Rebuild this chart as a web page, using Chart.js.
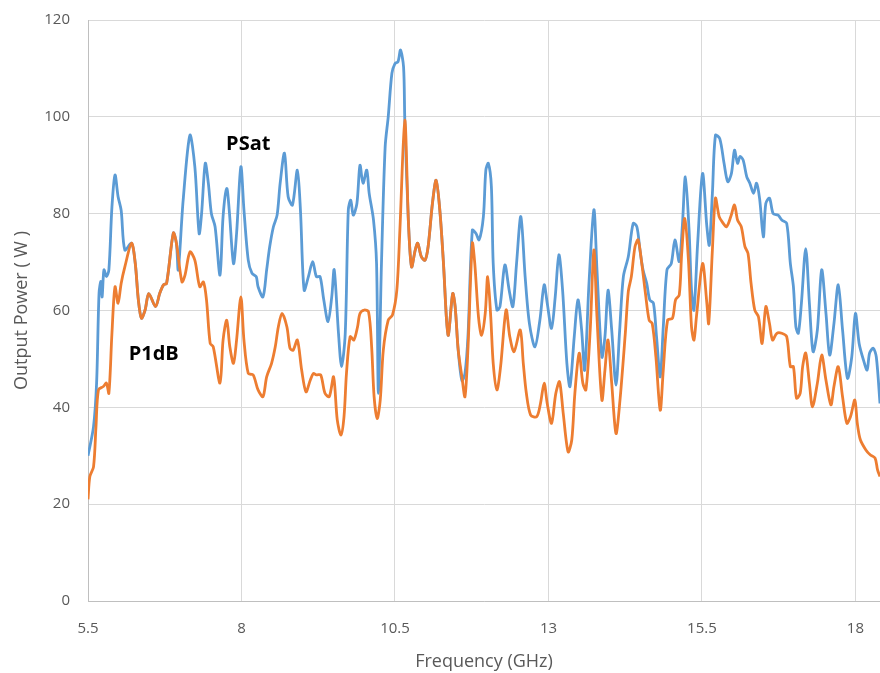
<!DOCTYPE html>
<html>
<head>
<meta charset="utf-8">
<script src="https://cdn.jsdelivr.net/npm/chart.js@4.4.1/dist/chart.umd.min.js"></script>
<style>
  body { margin: 0; background: #fff; }
  canvas { display: block; }
</style>
</head>
<body>
<canvas id="power" width="880" height="673"></canvas>
<script>
// frequency (GHz) / output power (W)
const psatFreq = [5.50, 5.59, 5.64, 5.68, 5.71, 5.73, 5.76, 5.80, 5.84, 5.89, 5.94, 5.99, 6.04, 6.10,
  6.21, 6.27, 6.32, 6.37, 6.43, 6.49, 6.60, 6.67, 6.73, 6.78, 6.89, 6.94,
  6.97, 7.05, 7.16, 7.24, 7.31, 7.35, 7.41, 7.46, 7.51, 7.57, 7.65, 7.70, 7.76, 7.80, 7.87, 7.92,
  7.99, 8.04, 8.11, 8.17, 8.24, 8.27, 8.35, 8.41, 8.46, 8.52, 8.58, 8.63, 8.70, 8.76, 8.83, 8.91,
  8.96, 9.02, 9.09, 9.16, 9.22, 9.28, 9.34, 9.41, 9.47, 9.51, 9.58, 9.63, 9.69, 9.74, 9.78, 9.82,
  9.88, 9.93, 9.98, 10.04, 10.08, 10.15, 10.20, 10.23, 10.28, 10.34, 10.39, 10.45, 10.50, 10.55,
  10.59, 10.64, 10.66, 10.72, 10.77, 10.83, 10.87, 10.93, 10.99, 11.04, 11.11, 11.17, 11.23, 11.29,
  11.34, 11.37, 11.44, 11.48, 11.53, 11.59, 11.64, 11.69, 11.76, 11.82, 11.87, 11.94, 11.98, 12.02,
  12.07, 12.10, 12.16, 12.21, 12.29, 12.36, 12.42, 12.48, 12.55, 12.62, 12.69, 12.78, 12.86, 12.93,
  12.98, 13.05, 13.11, 13.17, 13.23, 13.30, 13.35, 13.42, 13.48, 13.54, 13.59, 13.66, 13.74, 13.79,
  13.87, 13.92, 13.97, 14.03, 14.10, 14.16, 14.22, 14.30, 14.38, 14.44, 14.49, 14.54, 14.60, 14.65,
  14.71, 14.76, 14.82, 14.87, 14.93, 15.00, 15.06, 15.13, 15.18, 15.23, 15.29, 15.33, 15.37, 15.43,
  15.51, 15.58, 15.62, 15.67, 15.72, 15.79, 15.86, 15.92, 15.98, 16.03, 16.08, 16.12, 16.17, 16.23,
  16.28, 16.34, 16.39, 16.44, 16.50, 16.54, 16.60, 16.66, 16.74, 16.80, 16.88, 16.94, 16.99, 17.03,
  17.07, 17.12, 17.19, 17.25, 17.31, 17.38, 17.45, 17.52, 17.58, 17.65, 17.72, 17.79, 17.87, 17.94,
  18.00, 18.06, 18.13, 18.19, 18.23, 18.29, 18.34, 18.40];
const psatPower = [30, 36, 45, 63.6, 66, 62.8, 68.4, 67, 68.4, 81.4, 88, 83.5, 80.7, 72.5,
  73.9, 69.7, 62.2, 58.4, 60.1, 63.5, 60.8, 63.6, 65.3, 65.6, 76, 73.9,
  68.4, 82.8, 96.2, 89.7, 75.9, 80, 90.4, 86.3, 80, 77.3, 67.3, 79.4, 85.2, 80.8, 69.7, 75.9,
  89.7, 80.8, 70.4, 67.7, 67, 64.9, 62.8, 68.4, 73.2, 77.3, 79.7, 86.3, 92.5, 83.5, 81.8, 89,
  80.8, 64.2, 67, 70.1, 67, 67, 62.2, 57.7, 62.8, 68.4, 55.3, 48.4, 55.3, 80.8, 82.8, 79.7,
  82.1, 90, 86.3, 89, 84.2, 78.7, 69.7, 42.9, 69.7, 93.8, 100, 109, 111, 111.4,
  113.8, 110.3, 99.3, 78, 69, 72.5, 73.9, 71.1, 70.4, 73.2, 82.1, 86.9, 80.8, 69.7,
  58, 54.9, 63.5, 60.8, 51.8, 45.5, 47, 55, 76.6, 75.9, 74.6, 79.4, 89, 90.4,
  85.6, 69.7, 60.1, 60.8, 69.4, 64.2, 60.8, 69.7, 79.4, 67, 57.3, 52.5, 58, 65.3,
  61.5, 56.3, 62.8, 71.5, 64.2, 49.1, 44.3, 54.6, 62.2, 56, 47.7, 65.6, 80.8, 68.4,
  50.4, 54.6, 64.2, 56, 44.6, 56, 67, 71.1, 78, 77.3, 72.5, 68.4, 65.6, 62.2,
  61.5, 54.6, 46.3, 56.6, 68.4, 69.7, 74.6, 70.1, 77.3, 87.6, 76.6, 64.2, 60.1, 73.9,
  88.3, 77.3, 73.5, 84.2, 96.2, 95.5, 90.4, 86.6, 88.3, 93.1, 90.4, 91.8, 91.1, 87.6,
  86.3, 84.2, 86.3, 83, 75.2, 82.1, 83.2, 80, 79.7, 78.7, 78, 69.7, 64.9, 56.6,
  55.3, 61.5, 72.8, 61.5, 51.5, 56, 68.4, 59.4, 50.8, 57.3, 65.3, 56, 46, 50.4,
  59.4, 53.2, 49.8, 47.7, 51.2, 52.2, 50.4, 40.8];

const p1dbFreq = [5.50, 5.53, 5.59, 5.63, 5.67, 5.75, 5.80, 5.84, 5.89, 5.94, 5.99, 6.04, 6.10, 6.21,
  6.27, 6.32, 6.37, 6.43, 6.49, 6.60, 6.67, 6.73, 6.78, 6.89, 6.94, 7.03, 7.08, 7.16, 7.24, 7.32,
  7.38, 7.43, 7.49, 7.54, 7.65, 7.70, 7.76, 7.81, 7.87, 7.92, 7.99, 8.04, 8.11, 8.19, 8.27, 8.35,
  8.41, 8.49, 8.55, 8.60, 8.66, 8.74, 8.79, 8.84, 8.91, 8.98, 9.05, 9.12, 9.17, 9.22, 9.29, 9.36,
  9.43, 9.50, 9.56, 9.62, 9.67, 9.71, 9.77, 9.83, 9.89, 9.93, 10.00, 10.07, 10.12, 10.16, 10.21,
  10.26, 10.31, 10.39, 10.46, 10.53, 10.58, 10.66, 10.72, 10.77, 10.83, 10.87, 10.93, 10.99, 11.04,
  11.11, 11.17, 11.23, 11.29, 11.34, 11.37, 11.44, 11.48, 11.53, 11.59, 11.64, 11.69, 11.76, 11.80,
  11.86, 11.91, 11.97, 12.01, 12.06, 12.10, 12.16, 12.22, 12.31, 12.37, 12.44, 12.54, 12.59, 12.64,
  12.71, 12.81, 12.87, 12.93, 12.98, 13.05, 13.12, 13.18, 13.24, 13.32, 13.38, 13.43, 13.50, 13.56,
  13.61, 13.68, 13.74, 13.79, 13.87, 13.92, 13.97, 14.03, 14.10, 14.16, 14.25, 14.30, 14.35, 14.41,
  14.46, 14.52, 14.58, 14.64, 14.69, 14.75, 14.82, 14.87, 14.94, 15.02, 15.07, 15.13, 15.17, 15.22,
  15.28, 15.33, 15.37, 15.41, 15.51, 15.58, 15.61, 15.67, 15.72, 15.78, 15.83, 15.90, 15.97, 16.03,
  16.08, 16.14, 16.20, 16.25, 16.30, 16.36, 16.42, 16.48, 16.54, 16.60, 16.65, 16.72, 16.80, 16.88,
  16.94, 16.99, 17.04, 17.10, 17.14, 17.19, 17.25, 17.30, 17.38, 17.45, 17.52, 17.60, 17.65, 17.72,
  17.79, 17.86, 17.92, 17.99, 18.03, 18.08, 18.17, 18.24, 18.32, 18.36, 18.40];
const p1dbPower = [21, 25.7, 27.7, 36, 43.6, 44.3, 45, 42.9, 55.3, 64.9, 61.5, 65.6, 69, 73.9,
  69.7, 62.2, 58.4, 60.1, 63.5, 60.8, 63.6, 65.3, 65.6, 76, 73.9, 65.9, 67.3, 72.1, 70.4, 64.9,
  65.9, 62.2, 53.2, 52.5, 45, 53.9, 58, 52.5, 49.1, 53.9, 62.8, 53.9, 47, 46.7, 43.6, 42.2,
  46.3, 49.1, 52.5, 56.6, 59.4, 56.6, 52.2, 51.8, 53.9, 47.7, 43.2, 45.6, 47, 46.7, 46.7, 42.9,
  42.2, 46.3, 37.4, 34.3, 38.1, 47, 54.6, 53.9, 56.6, 59.4, 60.1, 59.7, 52.5, 42.2, 37.7,
  41.5, 51.8, 58, 59.1, 64.2, 76.6, 99.3, 78, 69, 72.5, 73.9, 71.1, 70.4, 73.2,
  82.1, 86.9, 80.8, 69.7, 58, 54.9, 63.5, 60.8, 51.8, 46.3, 42.2, 52.5, 73.9, 69.7,
  58.7, 54.9, 59.4, 67, 58.7, 49.1, 43.6, 48.4, 60.1, 54.6, 51.5, 56, 49.1, 42.9,
  38.4, 38.1, 40.8, 45, 40.8, 36.7, 42.9, 45.3, 38.8, 30.8, 33.3, 42.9, 51.2, 45,
  43.6, 56, 72.5, 58.7, 41.5, 47.7, 53.9, 45, 34.6, 40.8, 55, 63.9, 67, 73.2,
  74.6, 69.7, 63.5, 58, 57.3, 50.4, 39.4, 47.7, 58, 58.4, 62.2, 63.2, 71.8, 79,
  70.4, 56.6, 53.9, 58.7, 69.7, 61.5, 57.3, 72.5, 83.2, 79.4, 78.3, 77.3, 79.4, 81.8,
  78.7, 77.3, 73.2, 71.8, 65.6, 60.1, 58.7, 53.2, 60.8, 57.3, 53.9, 55.3, 55.3, 54.6,
  48.4, 48.4, 41.9, 42.9, 48.4, 51.2, 45, 40.1, 45, 50.8, 45.6, 40.5, 44.3, 48.4,
  42.2, 36.7, 38.1, 41.5, 36.7, 33.3, 31.2, 30.2, 29.5, 27.1, 25.7];

const xTicks = [5.5, 8, 10.5, 13, 15.5, 18];
const yTicks = [0, 20, 40, 60, 80, 100, 120];

// in-plot series labels
const noteText = ["PSat", "P1dB"];
const noteFreq = [8.11, 6.57];
const notePower = [94.4, 51];

const toPoints = (xs, ys) => xs.map((x, i) => ({ x: x, y: ys[i] }));

const seriesNotes = {
  id: "seriesNotes",
  afterDatasetsDraw(chart) {
    const ctx = chart.ctx;
    const xs = chart.scales.x;
    const ys = chart.scales.y;
    ctx.save();
    ctx.font = "bold 20px 'Open Sans', sans-serif";
    ctx.fillStyle = "#000";
    ctx.textAlign = "center";
    ctx.textBaseline = "middle";
    noteText.forEach((t, i) => {
      ctx.fillText(t, xs.getPixelForValue(noteFreq[i]), ys.getPixelForValue(notePower[i]));
    });
    ctx.restore();
  }
};

const tickFont = { family: "'Open Sans', sans-serif", size: 15 };
const titleFont = { family: "'Open Sans', sans-serif", size: 18 };

var ctx = document.getElementById("power").getContext("2d");
var chart = new Chart(ctx, {
  type: "line",
  data: {
    datasets: [
      {
        label: "P1dB",
        data: toPoints(p1dbFreq, p1dbPower),
        borderColor: "#ED7D31",
        borderWidth: 2.8,
        pointRadius: 0,
        tension: 0.3,
        order: 0
      },
      {
        label: "PSat",
        data: toPoints(psatFreq, psatPower),
        borderColor: "#5B9BD5",
        borderWidth: 2.8,
        pointRadius: 0,
        tension: 0.3,
        order: 1
      }
    ]
  },
  options: {
    responsive: false,
    animation: false,
    devicePixelRatio: 1,
    layout: { padding: { top: 20, right: 0, left: 0, bottom: 0 } },
    plugins: { legend: { display: false }, tooltip: { enabled: false } },
    scales: {
      x: {
        type: "linear",
        min: 5.5,
        max: 18.4,
        afterBuildTicks: s => { s.ticks = xTicks.map(v => ({ value: v })); },
        afterFit: s => { s.height = 72; },
        ticks: { color: "#595959", font: tickFont, padding: 2, maxRotation: 0 },
        grid: { color: "#D9D9D9", tickLength: 17, tickColor: "rgba(0,0,0,0)" },
        border: { color: "#BFBFBF" },
        title: { display: true, text: "Frequency (GHz)", color: "#595959", font: titleFont, padding: { top: 0, bottom: 0 } }
      },
      y: {
        min: 0,
        max: 120,
        afterBuildTicks: s => { s.ticks = yTicks.map(v => ({ value: v })); },
        afterFit: s => { s.width = 88; },
        ticks: { color: "#595959", font: tickFont, padding: 2 },
        grid: { color: "#D9D9D9", tickLength: 16, tickColor: "rgba(0,0,0,0)" },
        border: { color: "#BFBFBF" },
        title: { display: true, text: "Output Power ( W )", color: "#595959", font: titleFont, padding: { top: 11, bottom: 0 } }
      }
    }
  },
  plugins: [seriesNotes]
});
</script>
</body>
</html>
